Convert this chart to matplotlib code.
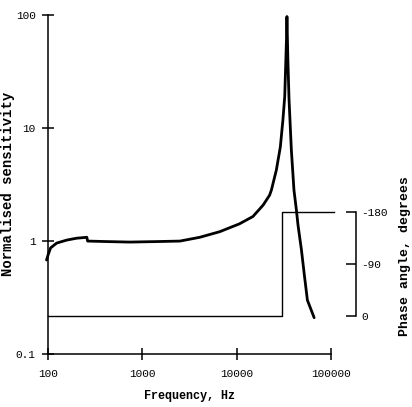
import matplotlib
matplotlib.use("Agg")
import matplotlib.pyplot as plt

# magnitude response
freq = [96, 100, 106, 123, 157, 200, 257, 262, 418, 734, 1420, 2500, 4060,
        6600, 10700, 14900, 19100, 22400, 23400, 26400, 29100, 31000,
        32400, 33800, 34200, 35000, 36000, 38100, 40600, 43100, 44800,
        48700, 52500, 56400, 66500]
sens = [0.68, 0.76, 0.87, 0.96, 1.02, 1.06, 1.08, 1.00, 0.99, 0.98, 0.99,
        1.00, 1.08, 1.21, 1.42, 1.65, 2.08, 2.55, 2.83, 4.25, 6.8, 11.8,
        19, 60, 97, 40, 17.9, 6.4, 2.83, 1.88, 1.39,
        0.84, 0.49, 0.30, 0.21]

# phase step
phase_freq = [100, 30000, 30000, 107000]
phase_deg = [0, 0, -180, -180]

x_ticks = [100, 1000, 10000, 100000]
x_labels = ["100", "1000", "10000", "100000"]
y_ticks = [0.1, 1, 10, 100]
y_labels = ["0.1", "1", "10", "100"]
p_ticks = [0, -90, -180]
p_labels = ["0", "-90", "-180"]

MONO = "Liberation Mono"
plt.rcParams.update({
    "font.family": MONO,
    "font.size": 8,
    "axes.linewidth": 1.1,
})

fig = plt.figure(figsize=(4.12, 4.07), dpi=100)
ax = fig.add_axes([0.117, 0.130, 0.686, 0.833])
ax.set_xscale("log")
ax.set_yscale("log")
ax.set_xlim(100, 100000)
ax.set_ylim(0.1, 100)

ax.plot(freq, sens, color="black", lw=2.0, solid_joinstyle="round",
        solid_capstyle="round", clip_on=False)

ax.set_xticks(x_ticks)
ax.set_xticklabels(x_labels)
ax.set_yticks(y_ticks)
ax.set_yticklabels(y_labels)
ax.minorticks_off()
ax.tick_params(direction="inout", length=8, width=1.1, pad=5)
ax.tick_params(axis="x", pad=7)
for s in ("top", "right"):
    ax.spines[s].set_visible(False)

ax.set_xlabel("Frequency, Hz", fontweight="bold", fontsize=8.5, labelpad=8)
fig.text(0.02, 0.548, "Normalised sensitivity", rotation=90, ha="center",
         va="center", fontweight="bold", fontsize=10)

# phase axis on the right
ax2 = ax.twinx()
ax2.set_ylim(65.7, -520.8)
ax2.plot(phase_freq, phase_deg, color="black", lw=1.0, clip_on=False)
ax2.set_xlim(100, 100000)
for s in ("top", "left", "bottom"):
    ax2.spines[s].set_visible(False)
ax2.spines["right"].set_position(("outward", 18))
ax2.spines["right"].set_bounds(-180, 0)
ax2.set_yticks(p_ticks)
ax2.set_yticklabels(p_labels)
ax2.tick_params(axis="y", direction="in", length=7, width=1.1, pad=4)
fig.text(0.983, 0.37, "Phase angle, degrees", rotation=90, ha="center",
         va="center", fontweight="bold", fontsize=9.5)

fig.savefig("out.png", dpi=100)
